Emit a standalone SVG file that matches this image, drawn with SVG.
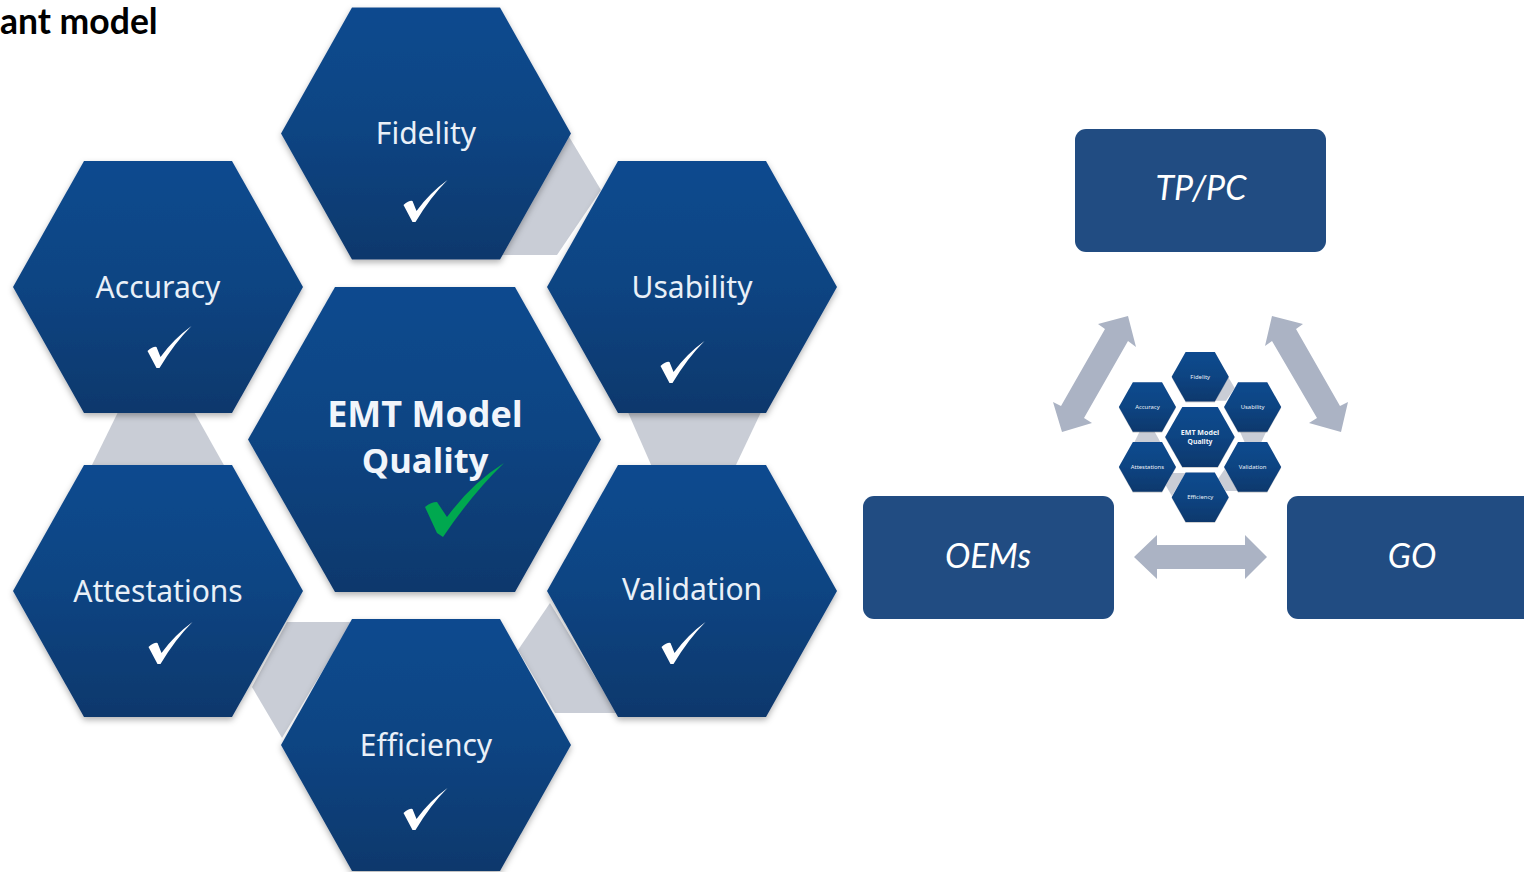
<svg xmlns="http://www.w3.org/2000/svg" width="1524" height="872" viewBox="0 0 1524 872">
<style>
.hex{fill:url(#hg);filter:url(#sh)}
.lbl{font-family:"Noto Sans",sans-serif;font-size:30px;fill:#e9f0f8;text-anchor:middle}
.ctr{font-family:"Open Sans",sans-serif;font-weight:700;font-size:36px;fill:#f1f5fb;text-anchor:middle}
.link{fill:#c9cdd6}
.box{fill:#214c82}
.boxt{font-family:Lato,"Open Sans",sans-serif;font-style:italic;font-size:34px;fill:#fff;text-anchor:middle}
.arr{fill:#abb3c4}
.chk{fill:#fff}
</style>
<defs>
<linearGradient id="hg" x1="0" y1="0" x2="0" y2="1"><stop offset="0" stop-color="#114a8f"/><stop offset=".5" stop-color="#114482"/><stop offset="1" stop-color="#11386c"/></linearGradient>
<filter id="sh" x="-10%" y="-10%" width="120%" height="125%"><feDropShadow dx="0" dy="3" stdDeviation="3" flood-color="#000" flood-opacity=".3"/></filter>
<polygon id="hx" class="hex" points="-74,-126 74,-126 145,0 74,126 -74,126 -145,0"/>
<path id="ck" class="chk" d="M0 25 Q6 20 9 21 L13 31 Q26 13 44 0 Q27 17 12 42 L9 42 Z"/>
<g id="diagram">
<g class="connectors">
<polygon class="link" points="568,135 601,190 557,255 500,255"/>
<polygon class="link" points="119,410 193,410 225,467 91,467"/>
<polygon class="link" points="627,410 762,410 735,467 652,467"/>
<polygon class="link" points="550,603 518,650 555,713 617,713"/>
<polygon class="link" points="287,622 352,622 282,738 252,687"/>
</g>
<g><use href="#hx" x="426" y="133.5"/><text class="lbl" x="426" y="144">Fidelity</text></g>
<g><use href="#hx" x="158" y="287"/><text class="lbl" x="158" y="298">Accuracy</text></g>
<g><use href="#hx" x="692" y="287"/><text class="lbl" x="692" y="298">Usability</text></g>
<g><use href="#hx" x="158" y="591"/><text class="lbl" x="158" y="602">Attestations</text></g>
<g><use href="#hx" x="692" y="591"/><text class="lbl" x="692" y="600">Validation</text></g>
<g><use href="#hx" x="426" y="745"/><text class="lbl" x="426" y="756">Efficiency</text></g>
<g><polygon class="hex" points="335,287 515,287 601,439.5 515,592 335,592 248,439.5"/>
<text class="ctr" x="425" y="427">EMT Model</text><text class="ctr" x="425" y="473" style="font-size:34.5px">Quality</text></g>
</g>
</defs>
<text id="title" x="0" y="34" font-family="Lato,'Open Sans',sans-serif" font-weight="700" font-size="35.5" fill="#000">ant model</text>
<g id="main-diagram"><use href="#diagram"/></g>
<g id="checks">
<use href="#ck" x="403.500" y="180"/>
<use href="#ck" x="147.500" y="326"/>
<use href="#ck" x="660.500" y="341"/>
<use href="#ck" x="148.500" y="622"/>
<use href="#ck" x="661.500" y="622"/>
<use href="#ck" x="403.500" y="788"/>
<path fill="#00a84f" d="M425 507 Q431 502 437 502 L447 517 Q472 483 504 463 Q472 494 443 537 L437 533 Z"/>
</g>
<g id="mini-diagram" transform="translate(1116.3 350.5) scale(.197)"><use href="#diagram"/></g>
<g id="node-tppc"><rect class="box" x="1075" y="129" width="251" height="123" rx="11"/><text class="boxt" x="1201" y="200">TP/PC</text></g>
<g id="node-oems"><rect class="box" x="863" y="496" width="251" height="123" rx="11"/><text class="boxt" x="988" y="568">OEMs</text></g>
<g id="node-go"><rect class="box" x="1287" y="496" width="260" height="123" rx="11"/><text class="boxt" x="1412" y="568">GO</text></g>
<g id="connectors">
<polygon class="arr" points="1128,316 1098,324 1105,329 1061,406 1053,402 1062,432 1092,423 1084,418 1128,341 1136,347"/>
<polygon class="arr" points="1272,316 1303,324 1296,329 1340,406 1348,402 1341,432 1309,423 1317,418 1272,341 1265,346"/>
<polygon class="arr" points="1134,557 1157,535 1157,545 1245,545 1245,535 1267,557 1245,579 1245,569 1157,569 1157,579"/>
</g>
</svg>
